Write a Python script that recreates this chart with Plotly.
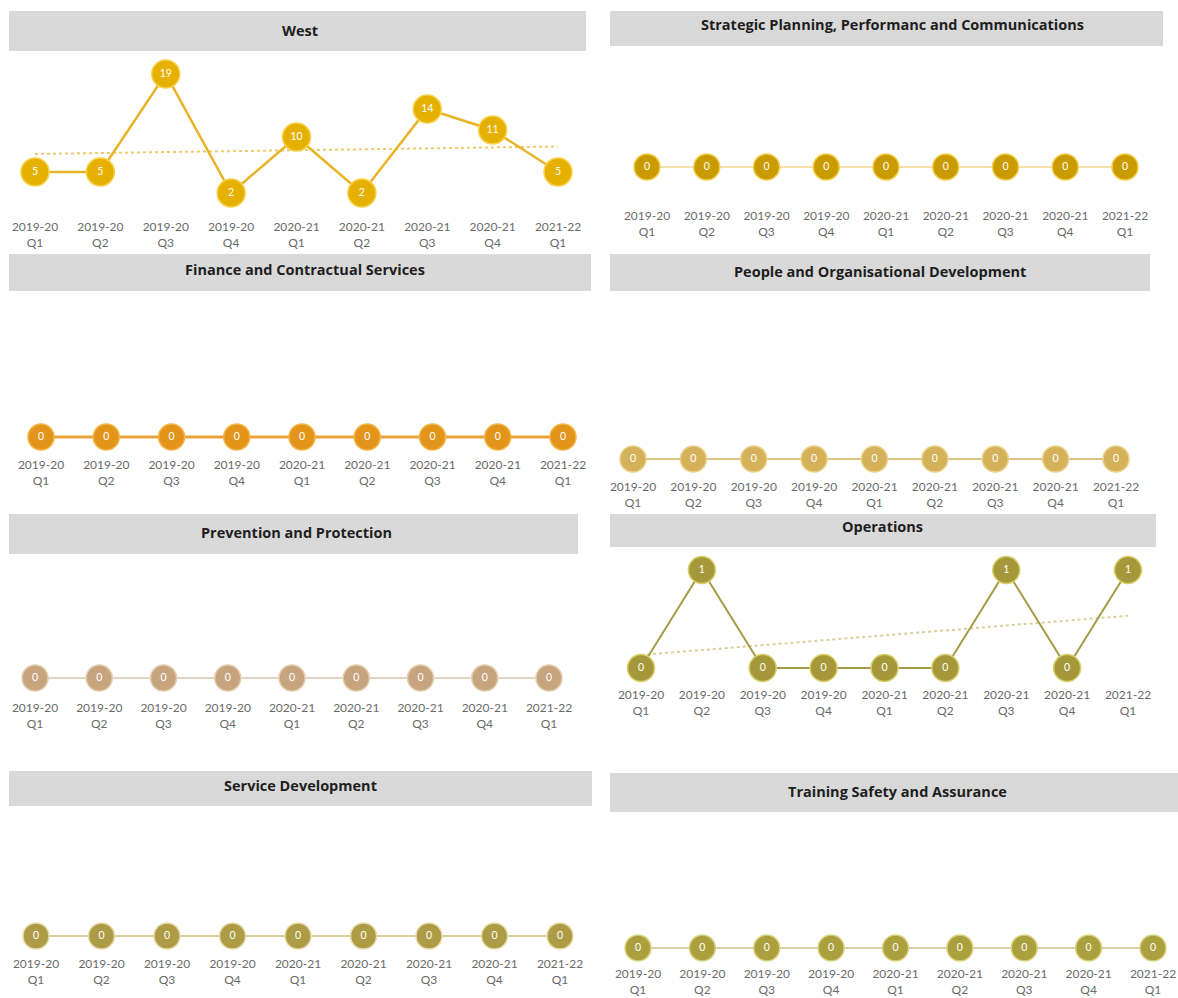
import plotly.graph_objects as go

# ---- data ---------------------------------------------------------------
quarters = ["2019-20<br>Q1", "2019-20<br>Q2", "2019-20<br>Q3", "2019-20<br>Q4",
            "2020-21<br>Q1", "2020-21<br>Q2", "2020-21<br>Q3", "2020-21<br>Q4",
            "2021-22<br>Q1"]

west = [5, 5, 19, 2, 10, 2, 14, 11, 5]
strategic_planning = [0, 0, 0, 0, 0, 0, 0, 0, 0]
finance = [0, 0, 0, 0, 0, 0, 0, 0, 0]
people = [0, 0, 0, 0, 0, 0, 0, 0, 0]
prevention = [0, 0, 0, 0, 0, 0, 0, 0, 0]
operations = [0, 1, 0, 0, 0, 0, 1, 0, 1]
service_dev = [0, 0, 0, 0, 0, 0, 0, 0, 0]
training = [0, 0, 0, 0, 0, 0, 0, 0, 0]

titles = ["West", "Strategic Planning, Performanc and Communications",
          "Finance and Contractual Services", "People and Organisational Development",
          "Prevention and Protection", "Operations",
          "Service Development", "Training Safety and Assurance"]

W, H = 1178, 998

# ---- panel geometry / styling (pixels) ------------------------------------
panels = [
    dict(values=west, x0=35, x8=558, yzero=207, k=7.0, top=60, bottom=218,
         bar=(9, 586, 11, 51), tx=300, ty=30,
         fill="#E6B000", edge="#F6D24A", line="#E8B425", lw=2.5, trend=True,
         trend_color="#EDCB6A", size=28),
    dict(values=strategic_planning, x0=647, x8=1125, yzero=167, k=40, top=100, bottom=207,
         bar=(610, 1163, 11, 46), tx=892, ty=24,
         fill="#C99B00", edge="#F2CF4A", line="#EBC25A", lw=1, trend=False,
         size=26),
    dict(values=finance, x0=41, x8=563, yzero=437, k=40, top=320, bottom=456,
         bar=(9, 591, 254, 291), tx=305, ty=270,
         fill="#E3941B", edge="#F3B545", line="#E8A23A", lw=3, trend=False,
         size=26),
    dict(values=people, x0=633, x8=1116, yzero=459, k=40, top=330, bottom=478,
         bar=(610, 1150, 254, 291), tx=880, ty=271,
         fill="#D5B25A", edge="#EAD28A", line="#D2AE5A", lw=1.5, trend=False,
         size=26),
    dict(values=prevention, x0=35, x8=549, yzero=678, k=40, top=580, bottom=699,
         bar=(9, 578, 514, 554), tx=296, ty=532,
         fill="#C6A47E", edge="#E4CDAE", line="#C4A687", lw=1, trend=False,
         size=26),
    dict(values=operations, x0=641, x8=1128, yzero=668, k=98, top=560, bottom=686,
         bar=(610, 1156, 514, 547), tx=882, ty=526,
         fill="#A5983A", edge="#D8CE6A", line="#A89B48", lw=2, trend=True,
         trend_color="#D9CF98", size=27),
    dict(values=service_dev, x0=36, x8=560, yzero=936, k=40, top=840, bottom=955,
         bar=(9, 592, 771, 806), tx=300, ty=785,
         fill="#AD9B45", edge="#E6DCA8", line="#CDBE7A", lw=1.5, trend=False,
         size=26),
    dict(values=training, x0=638, x8=1153, yzero=948, k=40, top=850, bottom=965,
         bar=(610, 1178, 773, 812), tx=897, ty=791,
         fill="#ABA03E", edge="#DCD480", line="#A89D4C", lw=1, trend=False,
         size=26),
]

fig = go.Figure()
positions = list(range(len(quarters)))
shapes, annotations = [], []

for i, (p, title) in enumerate(zip(panels, titles)):
    n = i + 1
    xa = "x" if n == 1 else f"x{n}"
    ya = "y" if n == 1 else f"y{n}"
    vals = p["values"]

    if p["trend"]:
        # least-squares trend line through the series
        m = len(vals)
        mx = sum(positions) / m
        my = sum(vals) / m
        slope = sum((x - mx) * (y - my) for x, y in zip(positions, vals)) / \
            sum((x - mx) ** 2 for x in positions)
        trend = [my + slope * (x - mx) for x in positions]
        fig.add_trace(go.Scatter(
            x=quarters, y=trend, mode="lines", xaxis=xa, yaxis=ya,
            line=dict(color=p["trend_color"], width=2, dash="dot"),
            hoverinfo="skip", showlegend=False))

    fig.add_trace(go.Scatter(
        x=quarters, y=vals, mode="lines+markers+text", xaxis=xa, yaxis=ya,
        text=[str(v) for v in vals], textposition="middle center",
        textfont=dict(color="white", size=10.5, family="Lato"),
        line=dict(color=p["line"], width=p["lw"]),
        marker=dict(size=p["size"], color=p["fill"],
                    line=dict(color=p["edge"], width=1.5)),
        cliponaxis=False, showlegend=False))

    # horizontal placement: category spacing in pixels, domain clipped to the page
    sp = (p["x8"] - p["x0"]) / 8
    left_px = max(0.0, p["x0"] - sp / 2)
    right_px = min(float(W), p["x8"] + sp / 2)
    xdom = [left_px / W, right_px / W]
    xrange = [(left_px - p["x0"]) / sp, (right_px - p["x0"]) / sp]

    ydom = [1 - p["bottom"] / H, 1 - p["top"] / H]
    yrange = [(p["yzero"] - p["bottom"]) / p["k"], (p["yzero"] - p["top"]) / p["k"]]

    fig.update_layout(**{
        ("xaxis" if n == 1 else f"xaxis{n}"): dict(
            domain=xdom, anchor=ya, type="category", range=xrange,
            showgrid=False, zeroline=False, showline=False, ticks="",
            tickfont=dict(family="Lato", size=12, color="#6A6A6A"),
            fixedrange=True),
        ("yaxis" if n == 1 else f"yaxis{n}"): dict(
            domain=ydom, anchor=xa, range=yrange, visible=False,
            showgrid=False, zeroline=False, fixedrange=True),
    })

    x0b, x1b, y0b, y1b = p["bar"]
    shapes.append(dict(type="rect", xref="paper", yref="paper", layer="below",
                       x0=x0b / W, x1=x1b / W, y0=1 - y1b / H, y1=1 - y0b / H,
                       fillcolor="#D9D9D9", line=dict(width=0)))
    annotations.append(dict(text=f"<b>{title}</b>", xref="paper", yref="paper",
                            x=p["tx"] / W, y=1 - p["ty"] / H, showarrow=False,
                            xanchor="center", yanchor="middle",
                            font=dict(family="Open Sans", size=14.5, color="#1E1E1E")))

fig.update_layout(width=W, height=H, margin=dict(l=0, r=0, t=0, b=0),
                  paper_bgcolor="white", plot_bgcolor="rgba(0,0,0,0)",
                  shapes=shapes, annotations=annotations, showlegend=False)

fig.write_html("out.html")
